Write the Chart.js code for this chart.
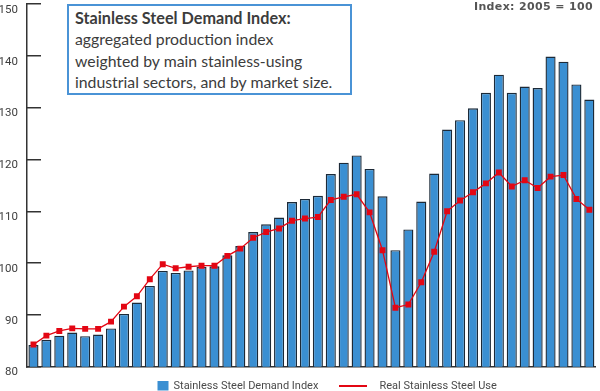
<!DOCTYPE html>
<html>
<head>
<meta charset="utf-8">
<script src="https://cdn.jsdelivr.net/npm/chart.js@4.4.1/dist/chart.umd.min.js"></script>
<style>
  html, body { margin: 0; padding: 0; background: #fff; }
  #wrap { position: relative; width: 600px; height: 391px; overflow: hidden; }
  #c { position: absolute; left: 0; top: 0; }
  #note {
    position: absolute; left: 67px; top: 4px; width: 275px; height: 86px;
    border: 2px solid #4a93d6; background: #fff;
    font-family: Lato, sans-serif; font-size: 15.8px; line-height: 21.4px;
    color: #3c3c3c; padding: 1px 0 0 6px; box-sizing: content-box;
    white-space: nowrap;
  }
  #note b { font-weight: 700; font-size: 16.2px; }
  #idx {
    position: absolute; left: 474px; top: 0px;
    font-family: 'DejaVu Sans', sans-serif; font-weight: 700; font-size: 11px;
    letter-spacing: 0.35px;
    color: #555; line-height: 14px; white-space: nowrap;
  }
</style>
</head>
<body>
<div id="wrap">
  <canvas id="c" width="600" height="391"></canvas>
  <div id="note"><b>Stainless Steel Demand Index:</b><br>aggregated production index<br>weighted by main stainless-using<br>industrial sectors, and by market size.</div>
  <div id="idx">Index: 2005 = 100</div>
</div>
<script>
const quarters = [
  '2002 Q1','2002 Q2','2002 Q3','2002 Q4',
  '2003 Q1','2003 Q2','2003 Q3','2003 Q4',
  '2004 Q1','2004 Q2','2004 Q3','2004 Q4',
  '2005 Q1','2005 Q2','2005 Q3','2005 Q4',
  '2006 Q1','2006 Q2','2006 Q3','2006 Q4',
  '2007 Q1','2007 Q2','2007 Q3','2007 Q4',
  '2008 Q1','2008 Q2','2008 Q3','2008 Q4',
  '2009 Q1','2009 Q2','2009 Q3','2009 Q4',
  '2010 Q1','2010 Q2','2010 Q3','2010 Q4',
  '2011 Q1','2011 Q2','2011 Q3','2011 Q4',
  '2012 Q1','2012 Q2','2012 Q3','2012 Q4'
];
const demandIndex = [
  84.2, 85.2, 86.0, 86.6, 85.9, 86.2, 87.4, 90.2, 92.4, 95.6,
  98.5, 98.1, 98.6, 99.3, 99.4, 101.5, 103.3, 106.0, 107.5, 108.8,
  111.8, 112.4, 113.0, 117.2, 119.4, 120.8, 118.2, 112.9, 102.5, 106.5,
  111.9, 117.3, 125.8, 127.6, 129.9, 132.9, 136.4, 132.9, 134.1, 133.8,
  139.9, 138.9, 134.5, 131.6
];
const realUse = [
  84.3, 86.0, 86.9, 87.4, 87.3, 87.3, 88.7, 91.6, 93.6, 96.9,
  99.8, 99.0, 99.3, 99.5, 99.5, 101.4, 102.8, 104.9, 106.0, 106.7,
  108.2, 108.6, 108.9, 112.2, 112.8, 113.3, 109.8, 102.5, 91.4, 92.0,
  96.3, 102.2, 110.0, 112.1, 113.7, 115.4, 117.5, 114.8, 116.0, 114.5,
  116.7, 117.0, 112.4, 110.3
];
const yTicks = [80, 90, 100, 110, 120, 130, 140, 150];
const seriesNames = ['Stainless Steel Demand Index', 'Real Stainless Steel Use'];

const BLUE = '#3a8fd2';
const RED = '#e30613';

const legendPlugin = {
  id: 'customLegend',
  afterDraw(chart) {
    const ctx = chart.ctx;
    const y = 386;
    ctx.save();
    ctx.font = '11px Roboto, sans-serif';
    ctx.textBaseline = 'middle';
    const bds = chart.data.datasets[1];
    ctx.fillStyle = bds.backgroundColor;
    ctx.fillRect(157.5, 381, 11, 9.5);
    ctx.fillStyle = '#4a4a4a';
    ctx.fillText(bds.label, 173.5, y);
    const lds = chart.data.datasets[0];
    ctx.strokeStyle = lds.borderColor;
    ctx.lineWidth = 2;
    ctx.beginPath();
    ctx.moveTo(339, y); ctx.lineTo(367, y);
    ctx.stroke();
    ctx.fillText(lds.label, 379.5, y);
    ctx.restore();
  }
};

new Chart(document.getElementById('c'), {
  data: {
    labels: quarters,
    datasets: [
      {
        type: 'line',
        label: seriesNames[1],
        data: realUse,
        borderColor: RED,
        backgroundColor: RED,
        borderWidth: 1.3,
        pointStyle: 'rect',
        pointRadius: 4.2,
        pointBackgroundColor: RED,
        pointBorderWidth: 0,
        tension: 0,
        order: 0
      },
      {
        type: 'bar',
        label: seriesNames[0],
        data: demandIndex,
        backgroundColor: BLUE,
        borderColor: '#1c2a38',
        borderWidth: 1.4,
        borderSkipped: false,
        barPercentage: 0.78,
        categoryPercentage: 1.0,
        order: 1
      }
    ]
  },
  options: {
    responsive: false,
    animation: false,
    events: [],
    layout: { padding: { top: 0, right: 1, bottom: 24.3, left: 0 } },
    plugins: { legend: { display: false }, tooltip: { enabled: false }, title: { display: false } },
    scales: {
      x: {
        type: 'category',
        offset: true,
        ticks: { display: false },
        grid: { display: false, drawTicks: false },
        border: { display: true, color: '#333', width: 1.5 }
      },
      y: {
        min: 80, max: 150,
        afterBuildTicks(scale) { scale.ticks = yTicks.map(v => ({ value: v })); },
        afterFit(scale) { scale.width = 27; scale.paddingTop = 0; scale.paddingBottom = 0; },
        ticks: {
          align: 'start',
          padding: 23,
          color: '#3d3d3d',
          font: { family: 'Roboto, sans-serif', size: 11.5 }
        },
        grid: { drawOnChartArea: false, drawTicks: true, tickLength: -14, color: '#333', lineWidth: 1.5 },
        border: { display: true, color: '#333', width: 1.5 }
      }
    }
  },
  plugins: [legendPlugin]
});
</script>
</body>
</html>
